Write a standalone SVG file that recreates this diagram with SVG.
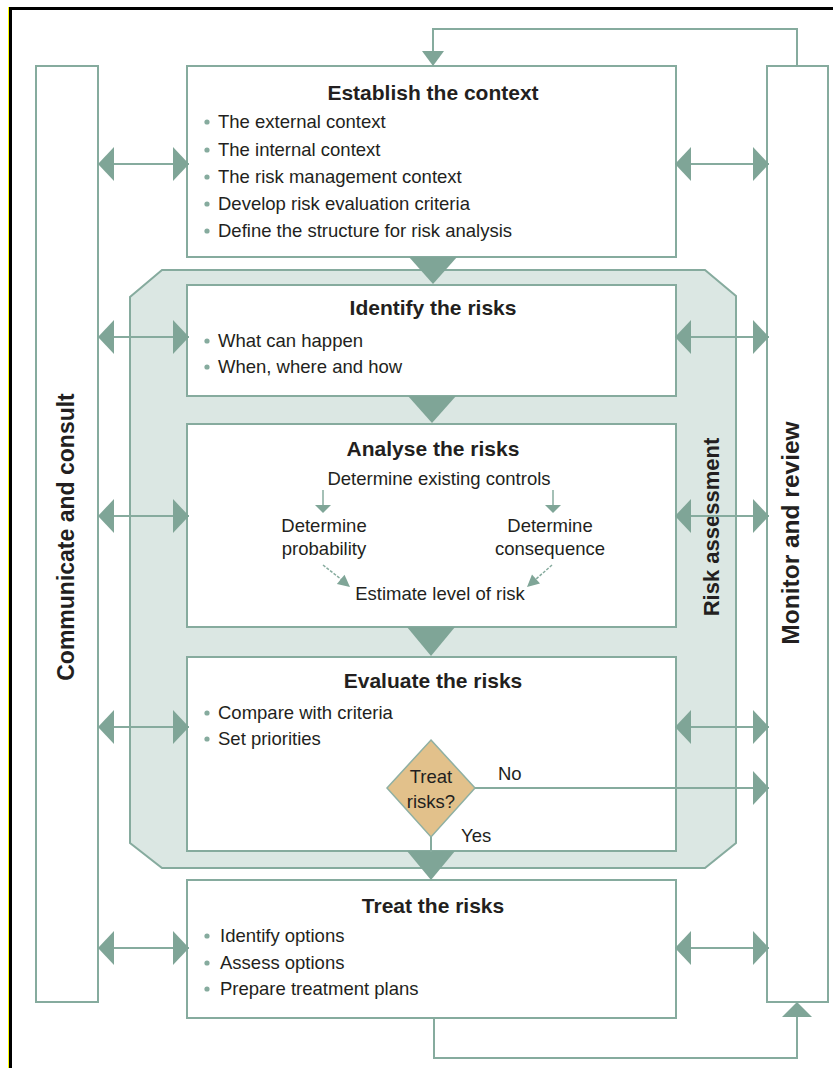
<svg xmlns="http://www.w3.org/2000/svg" width="833" height="1068" viewBox="0 0 833 1068">
<style>
.box{fill:#ffffff;stroke:#86ab9e;stroke-width:2}
.ln{fill:none;stroke:#86ab9e;stroke-width:2}
.thin{fill:none;stroke:#86ab9e;stroke-width:1.5}
.hd{fill:#7fa597}
.dot{fill:#86ab9e}
text{font-family:"Liberation Sans",Arial,sans-serif;fill:#231f20}
.t{font-size:21px;font-weight:bold;text-anchor:middle}
.b{font-size:18.5px}
.c{font-size:18.5px;text-anchor:middle}
.v{font-size:23px;font-weight:bold;text-anchor:middle}
</style>
<defs>
<marker id="ah" viewBox="0 0 16 34" refX="16" refY="17" markerWidth="16" markerHeight="34" markerUnits="userSpaceOnUse" orient="auto-start-reverse">
<path d="M0,0 L16,17 L0,34 Z" fill="#7fa597"/>
</marker>
</defs>
<rect x="0" y="0" width="833" height="1068" fill="#ffffff"/>
<g id="frame">
<rect x="8" y="7" width="1" height="1061" fill="#ffff00"/>
<rect x="9" y="7" width="824" height="3" fill="#000000"/>
<rect x="9" y="7" width="3" height="1061" fill="#000000"/>
</g>
<g id="communicate">
<rect class="box" x="36" y="66" width="62" height="936"/>
<text class="v" transform="translate(74,537) rotate(-90)">Communicate and consult</text>
</g>
<g id="monitor">
<rect class="box" x="767" y="66" width="61" height="936"/>
<text class="v" style="font-size:24.5px" transform="translate(799,533) rotate(-90)">Monitor and review</text>
</g>
<g id="risk-assessment">
<polygon points="162,270 705,270 736,296 736,843 705,868 162,868 130,843 130,297" fill="#dbe7e3" stroke="#86ab9e" stroke-width="2"/>
<text class="v" style="font-size:22px" transform="translate(719,527) rotate(-90)">Risk assessment</text>
</g>
<g id="establish">
<rect class="box" x="187" y="66" width="489" height="191"/>
<text class="t" x="433" y="100">Establish the context</text>
<circle class="dot" cx="207" cy="122" r="2.6"/><text class="b" x="218" y="128">The external context</text>
<circle class="dot" cx="207" cy="150" r="2.6"/><text class="b" x="218" y="156">The internal context</text>
<circle class="dot" cx="207" cy="177" r="2.6"/><text class="b" x="218" y="183">The risk management context</text>
<circle class="dot" cx="207" cy="204" r="2.6"/><text class="b" x="218" y="210">Develop risk evaluation criteria</text>
<circle class="dot" cx="207" cy="231" r="2.6"/><text class="b" x="218" y="237">Define the structure for risk analysis</text>
</g>
<g id="identify">
<rect class="box" x="187" y="285" width="489" height="111"/>
<text class="t" x="433" y="315">Identify the risks</text>
<circle class="dot" cx="207" cy="341" r="2.6"/><text class="b" x="218" y="347">What can happen</text>
<circle class="dot" cx="207" cy="367" r="2.6"/><text class="b" x="218" y="373">When, where and how</text>
</g>
<g id="analyse">
<rect class="box" x="187" y="424" width="489" height="203"/>
<text class="t" x="433" y="456">Analyse the risks</text>
<text class="c" x="439" y="485">Determine existing controls</text>
<text class="c" x="324" y="532">Determine</text>
<text class="c" x="324" y="555">probability</text>
<text class="c" x="550" y="532">Determine</text>
<text class="c" x="550" y="555">consequence</text>
<text class="c" x="440" y="600">Estimate level of risk</text>
</g>
<g id="evaluate">
<rect class="box" x="187" y="657" width="489" height="194"/>
<text class="t" x="433" y="688">Evaluate the risks</text>
<circle class="dot" cx="207" cy="713" r="2.6"/><text class="b" x="218" y="719">Compare with criteria</text>
<circle class="dot" cx="207" cy="739" r="2.6"/><text class="b" x="218" y="745">Set priorities</text>
</g>
<g id="decision">
<polygon points="431,740 475,788 431,837 387,788" fill="#e2c18b" stroke="#8fb0a3" stroke-width="1.5"/>
<text class="c" x="431" y="783">Treat</text>
<text class="c" x="431" y="808">risks?</text>
</g>
<g id="treat">
<rect class="box" x="187" y="880" width="489" height="138"/>
<text class="t" x="433" y="913">Treat the risks</text>
<circle class="dot" cx="207" cy="936" r="2.6"/><text class="b" x="220" y="942">Identify options</text>
<circle class="dot" cx="207" cy="963" r="2.6"/><text class="b" x="220" y="969">Assess options</text>
<circle class="dot" cx="207" cy="989" r="2.6"/><text class="b" x="220" y="995">Prepare treatment plans</text>
</g>
<g id="connectors">
<line class="ln" x1="98" y1="164" x2="189" y2="164" marker-start="url(#ah)" marker-end="url(#ah)"/>
<line class="ln" x1="98" y1="337" x2="189" y2="337" marker-start="url(#ah)" marker-end="url(#ah)"/>
<line class="ln" x1="98" y1="516" x2="189" y2="516" marker-start="url(#ah)" marker-end="url(#ah)"/>
<line class="ln" x1="98" y1="727" x2="189" y2="727" marker-start="url(#ah)" marker-end="url(#ah)"/>
<line class="ln" x1="98" y1="948" x2="189" y2="948" marker-start="url(#ah)" marker-end="url(#ah)"/>
<line class="ln" x1="675" y1="164" x2="769" y2="164" marker-start="url(#ah)" marker-end="url(#ah)"/>
<line class="ln" x1="675" y1="337" x2="769" y2="337" marker-start="url(#ah)" marker-end="url(#ah)"/>
<line class="ln" x1="675" y1="516" x2="769" y2="516" marker-start="url(#ah)" marker-end="url(#ah)"/>
<line class="ln" x1="675" y1="727" x2="769" y2="727" marker-start="url(#ah)" marker-end="url(#ah)"/>
<line class="ln" x1="675" y1="948" x2="769" y2="948" marker-start="url(#ah)" marker-end="url(#ah)"/>
<polygon class="hd" points="409,257 457,257 433,284"/>
<polygon class="hd" points="408,396 456,396 432,423"/>
<polygon class="hd" points="407,627 455,627 431,656"/>
<polygon class="hd" points="407,851 455,851 431,880"/>
<line class="ln" x1="431" y1="837" x2="431" y2="852"/>
<line class="ln" x1="475" y1="788" x2="769" y2="788" marker-end="url(#ah)"/>
<text class="b" x="498" y="780">No</text>
<text class="b" x="461" y="842">Yes</text>
<path class="ln" d="M797,66 V29 H433 V52"/>
<polygon class="hd" points="422,51 444,51 433,66"/>
<path class="ln" d="M434,1018 V1058 H797 V1016"/>
<polygon class="hd" points="782,1017 812,1017 797,1002"/>
<line class="thin" x1="323" y1="490" x2="323" y2="506"/>
<polygon class="hd" points="315,505 331,505 323,513"/>
<line class="thin" x1="553" y1="490" x2="553" y2="506"/>
<polygon class="hd" points="545,505 561,505 553,513"/>
<line class="thin" x1="323" y1="565" x2="342" y2="580" stroke-dasharray="3,1.5"/>
<polygon class="hd" points="350,587 336.9,584.1 344.5,574.8"/>
<line class="thin" x1="552" y1="565" x2="535" y2="580" stroke-dasharray="3,1.5"/>
<polygon class="hd" points="527,587 540,583.6 532,574.6"/>
</g>
</svg>
